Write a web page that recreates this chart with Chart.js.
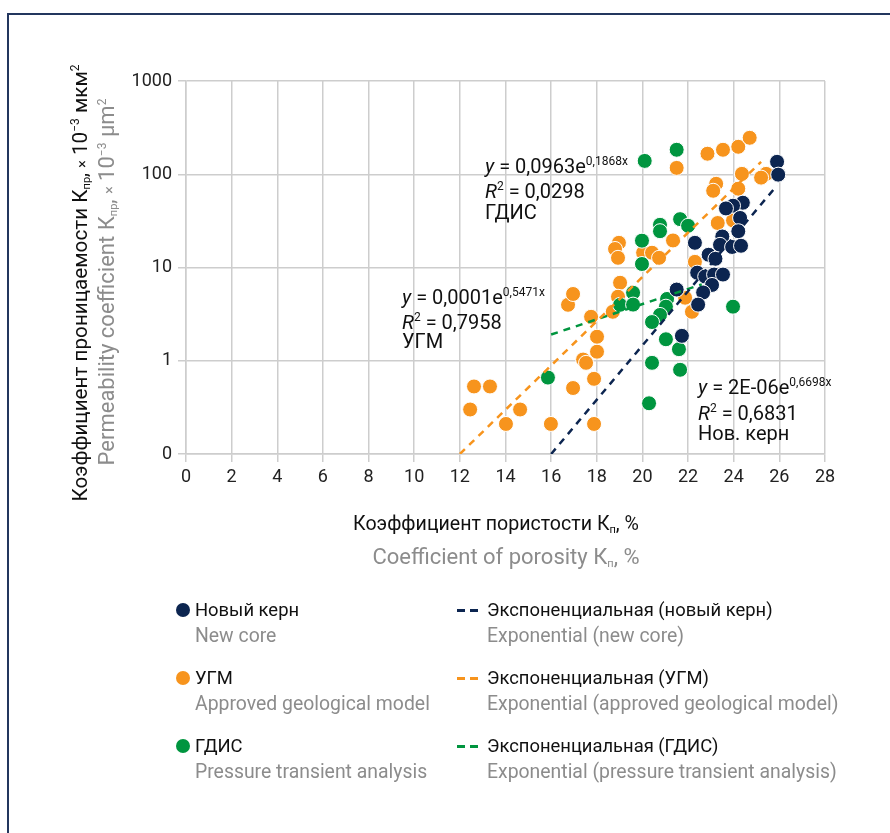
<!DOCTYPE html>
<html>
<head>
<meta charset="utf-8">
<script src="https://cdn.jsdelivr.net/npm/chart.js@4"></script>
<style>
    body { margin: 0; background: #fff; font-family: "Roboto", "Open Sans", sans-serif; }
    #wrap { position: relative; width: 890px; height: 833px; overflow: hidden; }
    #frame { position: absolute; left: 7px; top: 13px; width: 900px; height: 900px;
             border-top: 2px solid #23365e; border-left: 2px solid #23365e; }
    #chartBox { position: absolute; left: 0; top: 0; width: 890px; height: 833px; }
    .t { position: absolute; white-space: nowrap; line-height: 24px; color: #111; }
    .gray { color: #8c8c8c; }
    .rot { position: absolute; white-space: nowrap; transform: translate(-50%, -50%) rotate(-90deg); }
    .eq { position: absolute; white-space: nowrap; font-size: 20px; line-height: 25px; color: #111; }
    .eq sup { font-size: 12px; vertical-align: 8px; }
    sub { font-size: 11px; vertical-align: -3px; }
    .lg { font-size: 18.4px; }
    .lg.gray { font-size: 19.4px; }
    .dot { position: absolute; width: 14px; height: 14px; border-radius: 50%; }
    .dash { position: absolute; height: 3px; width: 22px;
            background-image: linear-gradient(to right, var(--c) 0 8px, transparent 8px 13px, var(--c) 13px 21px, transparent 21px); }
</style>
</head>
<body>
<div id="wrap">
    <div id="frame"></div>
    <div id="chartBox"><canvas id="chart"></canvas></div>

    <div class="rot" style="left:80px; top:283px; color:#111; font-size:20.7px;">Коэффициент проницаемости К<sub>пр</sub>, <span style="font-size:14px">×</span> 10<sup style="font-size:12px">−3</sup> мкм<sup style="font-size:12px">2</sup></div>
    <div class="rot gray" style="left:107px; top:282px; font-size:22px;">Permeability coefficient К<sub>пр</sub>, <span style="font-size:14px">×</span> 10<sup style="font-size:12px">−3</sup> μm<sup style="font-size:12px">2</sup></div>

    <div class="t" style="left:0; width:992px; text-align:center; top:512px; font-size:19.6px;">Коэффициент пористости К<sub>п</sub>, %</div>
    <div class="t gray" style="left:0; width:1012px; text-align:center; top:545px; font-size:22px;">Coefficient of porosity К<sub>п</sub>, %</div>

    <div class="eq" style="left:485px; top:149px;"><i>y</i> = 0,0963e<sup>0,1868x</sup></div>
    <div class="eq" style="left:485px; top:174px;"><i>R</i><sup>2</sup> = 0,0298</div>
    <div class="eq" style="left:485px; top:200px;">ГДИС</div>

    <div class="eq" style="left:402px; top:280px;"><i>y</i> = 0,0001e<sup>0,5471x</sup></div>
    <div class="eq" style="left:402px; top:305px;"><i>R</i><sup>2</sup> = 0,7958</div>
    <div class="eq" style="left:402px; top:329px;">УГМ</div>

    <div class="eq" style="left:698px; top:370px;"><i>y</i> = 2E-06e<sup>0,6698x</sup></div>
    <div class="eq" style="left:698px; top:396px;"><i>R</i><sup>2</sup> = 0,6831</div>
    <div class="eq" style="left:698px; top:421px;">Нов. керн</div>

    <div class="dot" style="left:176px; top:603px; background:#0c2550;"></div>
    <div class="t lg" style="left:195px; top:598px;">Новый керн</div>
    <div class="t lg gray" style="left:195px; top:624px;">New core</div>
    <div class="dot" style="left:176px; top:671px; background:#f7941d;"></div>
    <div class="t lg" style="left:195px; top:666px;">УГМ</div>
    <div class="t lg gray" style="left:195px; top:692px;">Approved geological model</div>
    <div class="dot" style="left:176px; top:739px; background:#00953f;"></div>
    <div class="t lg" style="left:195px; top:734px;">ГДИС</div>
    <div class="t lg gray" style="left:195px; top:760px;">Pressure transient analysis</div>

    <div class="dash" style="left:457px; top:609px; --c:#0c2550;"></div>
    <div class="t lg" style="left:487px; top:598px;">Экспоненциальная (новый керн)</div>
    <div class="t lg gray" style="left:487px; top:624px;">Exponential (new core)</div>
    <div class="dash" style="left:457px; top:677px; --c:#f7941d;"></div>
    <div class="t lg" style="left:487px; top:666px;">Экспоненциальная (УГМ)</div>
    <div class="t lg gray" style="left:487px; top:692px;">Exponential (approved geological model)</div>
    <div class="dash" style="left:457px; top:745px; --c:#00953f;"></div>
    <div class="t lg" style="left:487px; top:734px;">Экспоненциальная (ГДИС)</div>
    <div class="t lg gray" style="left:487px; top:760px;">Exponential (pressure transient analysis)</div>
</div>

<script>
// porosity, %
const newCoreX = [25.9, 25.95, 24.4, 23.97, 23.66, 24.28, 24.2, 23.5, 23.4, 23.93, 24.32, 22.3, 22.9, 23.2,
                  22.4, 22.75, 23.14, 23.53, 23.05, 22.66, 22.44, 21.5, 21.73];
// permeability, 10^-3 um2
const newCoreY = [136, 99, 49.5, 46, 43, 34, 24.5, 21.5, 17.5, 16.6, 17.1, 18.4, 13.7, 12.4,
                  8.8, 8.0, 8.4, 8.4, 6.5, 5.4, 4.0, 5.8, 1.85];

const ugmX = [12.45, 12.62, 13.32, 14.64, 14.02, 15.99, 16.96, 17.88, 17.88, 17.4, 17.53, 18.01, 18.01, 17.75,
              16.74, 16.96, 18.7, 19.02, 18.93, 21.87, 22.17, 22.3, 18.97, 18.8, 18.93, 20.03, 20.42, 20.73,
              21.34, 21.5, 22.85, 23.53, 24.2, 24.7, 25.42, 25.2, 24.36, 23.23, 23.1, 24.2, 23.3, 23.97];
const ugmY = [0.30, 0.53, 0.53, 0.30, 0.21, 0.21, 0.51, 0.64, 0.21, 1.03, 0.95, 1.25, 1.81, 2.96,
              3.98, 5.2, 3.35, 6.86, 4.86, 4.74, 3.35, 11.5, 18.4, 15.8, 12.7, 14.4, 14.4, 12.7,
              19.5, 117, 166, 183, 197, 246, 101, 92, 101, 79, 66.5, 70, 30, 32];

const gdisX = [15.86, 20.1, 21.5, 20.77, 20.77, 21.65, 22.0, 19.98, 19.98, 19.02, 19.59, 19.59, 21.08,
               21.03, 20.77, 20.42, 21.03, 20.42, 21.6, 21.65, 20.29, 23.97];
const gdisY = [0.66, 139, 183, 28.7, 24.5, 33, 28, 19.4, 10.9, 3.98, 5.36, 4.0, 4.6,
               3.8, 3.1, 2.6, 1.7, 0.95, 1.33, 0.8, 0.35, 3.8];

// trend line end points (exponential -> straight on log axis)
const trendNewX = [16, 25.9];
const trendNewY = [0.1, 76];
const trendUgmX = [12, 25.2];
const trendUgmY = [0.1, 136];
const trendGdisX = [16, 22.6];
const trendGdisY = [1.91, 6.6];

const xTicks = [0, 2, 4, 6, 8, 10, 12, 14, 16, 18, 20, 22, 24, 26, 28];
const yTicks = [0.1, 1, 10, 100, 1000];
const yTickLabels = ['0', '1', '10', '100', '1000'];

const NAVY = '#0c2550';
const ORANGE = '#f7941d';
const GREEN = '#00953f';

function pts(xs, ys) {
    return xs.map((x, i) => ({ x: x, y: ys[i] }));
}

function scatterSet(label, xs, ys, color, order) {
    return {
        type: 'scatter',
        label: label,
        data: pts(xs, ys),
        backgroundColor: color,
        borderColor: '#ffffff',
        borderWidth: 1,
        pointRadius: 7.5,
        order: order
    };
}

function trendSet(label, xs, ys, color) {
    return {
        type: 'line',
        label: label,
        data: pts(xs, ys),
        borderColor: color,
        borderWidth: 2.5,
        borderDash: [7, 6],
        pointRadius: 0,
        fill: false,
        order: 0
    };
}

const gridColor = '#cdcdcd';
const tickFont = { family: '"Roboto", "Open Sans", sans-serif', size: 18 };

new Chart(document.getElementById('chart'), {
    data: {
        datasets: [
            trendSet('Экспоненциальная (новый керн)', trendNewX, trendNewY, NAVY),
            trendSet('Экспоненциальная (УГМ)', trendUgmX, trendUgmY, ORANGE),
            trendSet('Экспоненциальная (ГДИС)', trendGdisX, trendGdisY, GREEN),
            scatterSet('Новый керн', newCoreX, newCoreY, NAVY, 1),
            scatterSet('ГДИС', gdisX, gdisY, GREEN, 2),
            scatterSet('УГМ', ugmX, ugmY, ORANGE, 3)
        ]
    },
    options: {
        responsive: true,
        maintainAspectRatio: false,
        animation: false,
        layout: { padding: { left: 0, right: 65, top: 81, bottom: 339 } },
        plugins: { legend: { display: false }, tooltip: { enabled: false } },
        scales: {
            x: {
                type: 'linear',
                min: 0,
                max: 28,
                afterBuildTicks: s => { s.ticks = xTicks.map(v => ({ value: v })); },
                afterFit: s => { s.height = 40; },
                grid: { color: gridColor, lineWidth: 1.5, tickLength: 8 },
                border: { color: gridColor, width: 1.5 },
                ticks: { color: '#222', font: tickFont, padding: 5, maxRotation: 0 }
            },
            y: {
                type: 'logarithmic',
                min: 0.1,
                max: 1000,
                afterBuildTicks: s => { s.ticks = yTicks.map(v => ({ value: v })); },
                afterFit: s => { s.width = 186; },
                grid: { color: gridColor, lineWidth: 1.5, tickLength: 8 },
                border: { color: gridColor, width: 1.5 },
                ticks: {
                    color: '#222',
                    font: tickFont,
                    padding: 6,
                    callback: v => yTickLabels[yTicks.indexOf(v)]
                }
            }
        }
    }
});
</script>
</body>
</html>
